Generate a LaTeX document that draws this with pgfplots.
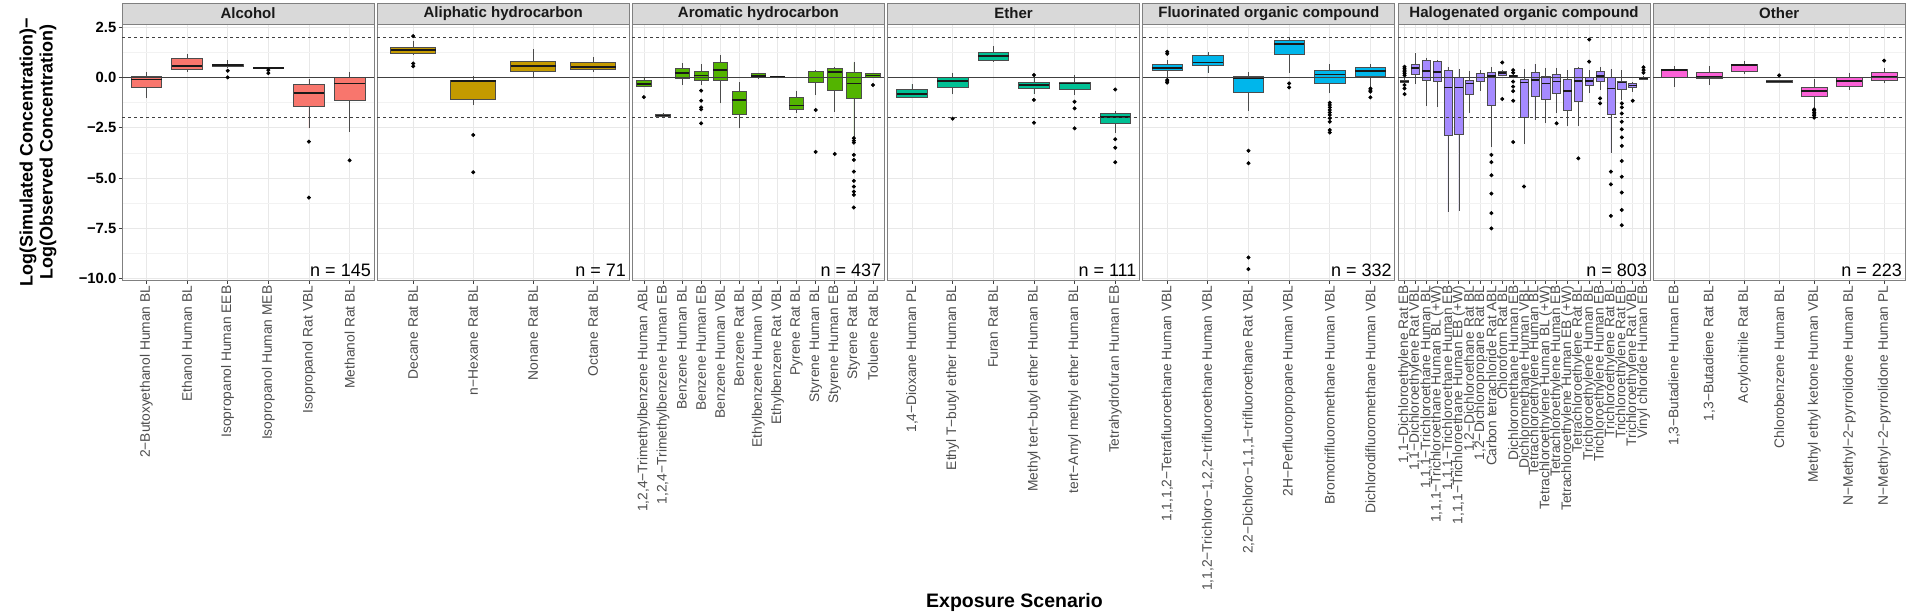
\documentclass[border=0pt]{standalone}
\usepackage{fontspec}
\setmainfont{Liberation Sans}
\usepackage{pgfplots}
\pgfplotsset{compat=1.18}
\usepgfplotslibrary{statistics}

\definecolor{cAl}{HTML}{F8766D}
\definecolor{cAli}{HTML}{C49A00}
\definecolor{cAro}{HTML}{53B400}
\definecolor{cEth}{HTML}{00C094}
\definecolor{cFlu}{HTML}{00B6EB}
\definecolor{cHal}{HTML}{A58AFF}
\definecolor{cOth}{HTML}{FB61D7}

\newcommand{\xtfont}{\fontsize{13.8}{14}\selectfont}

\pgfplotsset{
  facet/.style={
    scale only axis, width=252pt, height=256pt, anchor=south west,
    ymin=-10.06, ymax=2.65, xmin=0.4,
    ytick={-10,-7.5,-5,-2.5,0,2.5},
    minor ytick={-8.75,-6.25,-3.75,-1.25,1.25},
    xmajorgrids, ymajorgrids, yminorgrids,
    major grid style={black!9, line width=0.7pt},
    minor grid style={black!5, line width=0.4pt},
    axis line style={black!50, line width=0.9pt},
    tick align=outside, xtick pos=left, ytick pos=left,
    major tick length=3.5pt, minor tick length=0pt,
    tick style={black!75, line width=0.7pt},
    xticklabel style={rotate=90, anchor=east, font=\xtfont, text=black!70, inner sep=2pt},
    yticklabel style={font=\bfseries\fontsize{14.8}{15}\selectfont, text=black, inner sep=2pt},
    clip=false,
  },
  noy/.style={yticklabels={}, ytick style={draw=none}},
  bxs/.style={draw=black!70, line width=0.6pt, fill=\cc,
    mark=*, mark size=1.7pt, mark options={draw=black, fill=black, solid},
    boxplot/draw direction=y,
    boxplot/box extend=0.75, boxplot/whisker extend=0,
    boxplot/every median/.style={draw=black!90, line width=1.7pt},
    boxplot/every whisker/.style={draw=black!70, line width=0.6pt}},
}

% position, lower whisker, lower quartile, median, upper quartile, upper whisker, outliers
\newcommand{\bx}[7]{\addplot[bxs, boxplot prepared={draw position=#1, lower whisker=#2,
  lower quartile=#3, median=#4, upper quartile=#5, upper whisker=#6}]
  table[row sep=\\, y index=0] {y\\ #7};}
\newcommand{\bn}[6]{\addplot[bxs, boxplot prepared={draw position=#1, lower whisker=#2,
  lower quartile=#3, median=#4, upper quartile=#5, upper whisker=#6}] coordinates {};}

\newcommand{\refl}[1]{%
  \draw[black!75, line width=0.7pt] (axis cs:0.4,0) -- (axis cs:#1,0);
  \draw[black!75, line width=0.7pt, dash pattern=on 3pt off 3pt] (axis cs:0.4,2) -- (axis cs:#1,2);
  \draw[black!75, line width=0.7pt, dash pattern=on 3pt off 3pt] (axis cs:0.4,-2) -- (axis cs:#1,-2);}
\newcommand{\nlab}[1]{\node[anchor=south east, font=\fontsize{18}{18}\selectfont, inner sep=3pt] at (rel axis cs:1,0) {#1};}
\newcommand{\strip}[2]{%
  \draw[fill=black!15, draw=black!50, line width=0.9pt] (#1.north west) rectangle ([yshift=21pt]#1.north east);
  \node[font=\bfseries\fontsize{15}{15}\selectfont, text=black!90] at ([yshift=10.5pt]#1.north) {#2};}

\begin{document}
\begin{tikzpicture}
\useasboundingbox (0pt,0pt) rectangle (1920pt,614pt);

% Alcohol
\def\cc{cAl}
\begin{axis}[facet, name=p1, at={(122pt,334pt)}, xmax=6.6, xtick={1,...,6},
  yticklabels={−10.0,−7.5,−5.0,−2.5,0.0,2.5},
  xticklabels={2−Butoxyethanol Human BL, Ethanol Human BL, Isopropanol Human EEB,
    Isopropanol Human MEB, Isopropanol Rat VBL, Methanol Rat BL}]
\bn{1}{-1.04}{-0.51}{-0.10}{0.07}{0.28}
\bn{2}{0.28}{0.41}{0.58}{0.96}{1.16}
\bx{3}{0.45}{0.57}{0.61}{0.64}{0.86}{0.33\\ 0.0\\}
\bx{4}{0.42}{0.46}{0.48}{0.50}{0.52}{0.36\\ 0.21\\}
\bx{5}{-2.53}{-1.42}{-0.79}{-0.36}{-0.08}{-3.19\\ -5.97\\}
\bx{6}{-2.69}{-1.16}{-0.30}{0.0}{0.28}{-4.12\\}
\refl{6.6}
\nlab{n = 145}
\end{axis}
\strip{p1}{Alcohol}

% Aliphatic hydrocarbon
\def\cc{cAli}
\begin{axis}[facet, noy, name=p2, at={(377.2pt,334pt)}, xmax=4.6, xtick={1,...,4},
  xticklabels={Decane Rat BL, n−Hexane Rat BL, Nonane Rat BL, Octane Rat BL}]
\bx{1}{1.11}{1.19}{1.36}{1.49}{1.82}{2.05\\ 0.69\\ 0.55\\}
\bx{2}{-1.39}{-1.09}{-0.17}{-0.13}{0.07}{-2.86\\ -4.71\\}
\bn{3}{-0.05}{0.31}{0.55}{0.78}{1.39}
\bn{4}{0.28}{0.40}{0.53}{0.76}{1.02}
\refl{4.6}
\nlab{n = 71}
\end{axis}
\strip{p2}{Aliphatic hydrocarbon}

% Aromatic hydrocarbon
\def\cc{cAro}
\begin{axis}[facet, noy, name=p3, at={(632.4pt,334pt)}, xmax=13.6, xtick={1,...,13},
  xticklabels={{1,2,4−Trimethylbenzene Human ABL}, {1,2,4−Trimethylbenzene Human EB},
    Benzene Human BL, Benzene Human EB, Benzene Human VBL, Benzene Rat BL,
    Ethylbenzene Human VBL, Ethylbenzene Rat VBL, Pyrene Rat BL, Styrene Human BL,
    Styrene Human EB, Styrene Rat BL, Toluene Rat BL}]
\bx{1}{-0.50}{-0.43}{-0.33}{-0.17}{-0.05}{-0.98\\}
\bn{2}{-1.98}{-1.95}{-1.90}{-1.85}{-1.79}
\bn{3}{-0.38}{-0.05}{0.23}{0.45}{0.69}
\bx{4}{-0.38}{-0.13}{0.10}{0.28}{0.64}{-0.66\\ -1.16\\ -1.49\\ -1.59\\ -2.28\\}
\bn{5}{-1.29}{-0.13}{0.35}{0.74}{1.11}
\bn{6}{-2.53}{-1.83}{-1.14}{-0.71}{-0.25}
\bn{7}{-0.05}{-0.02}{0.08}{0.20}{0.23}
\bn{8}{-0.02}{0.0}{0.03}{0.06}{0.08}
\bn{9}{-1.75}{-1.59}{-1.40}{-1.01}{-0.66}
\bx{10}{-0.88}{-0.26}{0.0}{0.28}{0.36}{-1.62\\ -3.70\\}
\bx{11}{-1.70}{-0.66}{0.28}{0.43}{0.53}{-3.80\\}
\bx{12}{-2.94}{-1.04}{-0.30}{0.23}{0.74}{-3.02\\ -3.14\\ -3.24\\ -3.85\\ -4.10\\ -4.68\\ -5.14\\ -5.42\\ -5.67\\ -5.83\\ -6.46\\}
\bx{13}{-0.05}{0.0}{0.10}{0.20}{0.23}{-0.38\\}
\refl{13.6}
\nlab{n = 437}
\end{axis}
\strip{p3}{Aromatic hydrocarbon}

% Ether
\def\cc{cEth}
\begin{axis}[facet, noy, name=p4, at={(887.6pt,334pt)}, xmax=6.6, xtick={1,...,6},
  xticklabels={{1,4−Dioxane Human PL}, Ethyl T−butyl ether Human BL, Furan Rat BL,
    Methyl tert−butyl ether Human BL, tert−Amyl methyl ether Human BL, Tetrahydrofuran Human EB}]
\bn{1}{-1.04}{-0.99}{-0.83}{-0.58}{-0.33}
\bx{2}{-0.84}{-0.51}{-0.17}{0.0}{0.23}{-2.05\\}
\bn{3}{0.78}{0.83}{1.06}{1.24}{1.55}
\bx{4}{-0.83}{-0.53}{-0.38}{-0.26}{0.05}{0.12\\ -1.12\\ -2.25\\}
\bx{5}{-0.88}{-0.60}{-0.30}{-0.26}{0.12}{-1.21\\ -1.54\\ -2.53\\}
\bx{6}{-2.74}{-2.28}{-1.95}{-1.79}{-1.65}{-0.60\\ -3.07\\ -3.49\\ -4.21\\}
\refl{6.6}
\nlab{n = 111}
\end{axis}
\strip{p4}{Ether}

% Fluorinated organic compound
\def\cc{cFlu}
\begin{axis}[facet, noy, name=p5, at={(1142.8pt,334pt)}, xmax=6.6, xtick={1,...,6},
  xticklabels={{1,1,1,2−Tetrafluoroethane Human VBL}, {1,1,2−Trichloro−1,2,2−trifluoroethane Human VBL},
    {2,2−Dichloro−1,1,1−trifluoroethane Rat VBL}, 2H−Perfluoropropane Human VBL,
    Bromotrifluoromethane Human VBL, Dichlorodifluoromethane Human VBL}]
\bx{1}{-0.10}{0.33}{0.48}{0.64}{0.86}{1.27\\ 1.17\\ -0.13\\ -0.18\\ -0.26\\}
\bn{2}{0.23}{0.58}{0.74}{1.11}{1.27}
\bx{3}{-1.67}{-0.74}{-0.02}{0.07}{0.25}{-3.64\\ -4.26\\ -8.94\\ -9.52\\}
\bx{4}{0.23}{1.17}{1.64}{1.82}{2.02}{-0.30\\ -0.50\\}
\bx{5}{-0.79}{-0.30}{0.15}{0.33}{0.66}{-1.26\\ -1.37\\ -1.49\\ -1.62\\ -1.74\\ -1.87\\ -2.03\\ -2.20\\ -2.61\\ -2.74\\}
\bx{6}{-0.46}{0.03}{0.33}{0.48}{0.66}{-0.55\\ -0.63\\ -0.71\\ -0.99\\}
\refl{6.6}
\nlab{n = 332}
\end{axis}
\strip{p5}{Fluorinated organic compound}

% Halogenated organic compound
\def\cc{cHal}
\begin{axis}[facet, noy, name=p6, at={(1398pt,334pt)}, xmax=23.6, xtick={1,...,23},
  xticklabels={{1,1−Dichloroethylene Rat EB}, {1,1−Dichloroethylene Rat VBL},
    {1,1,1−Trichloroethane Human BL}, {1,1,1−Trichloroethane Human BL (+W)},
    {1,1,1−Trichloroethane Human EB}, {1,1,1−Trichloroethane Human EB (+W)},
    {1,2−Dichloroethane Rat BL}, {1,2−Dichloropropane Rat BL}, Carbon tetrachloride Rat ABL,
    Chloroform Rat BL, Dichloromethane Human EB, Dichloromethane Human VBL,
    Tetrachloroethylene Human BL, Tetrachloroethylene Human BL (+W), Tetrachloroethylene Human EB,
    Tetrachloroethylene Human EB (+W), Tetrachloroethylene Rat BL, Trichloroethylene Human BL,
    Trichloroethylene Human EB, Trichloroethylene Rat BL, Trichloroethylene Rat EB,
    Trichloroethylene Rat VBL, Vinyl chloride Human EB}]
\bx{1}{-0.28}{-0.25}{-0.20}{-0.13}{0.0}{0.53\\ 0.45\\ 0.36\\ 0.28\\ 0.20\\ 0.10\\ -0.38\\ -0.55\\ -0.83\\}
\bn{2}{-0.35}{0.17}{0.45}{0.64}{1.19}
\bn{3}{-1.42}{-0.13}{0.31}{0.83}{0.98}
\bn{4}{-1.45}{-0.18}{0.28}{0.78}{0.86}
\bn{5}{-6.69}{-2.86}{-0.50}{0.33}{0.53}
\bn{6}{-6.63}{-2.81}{-0.51}{0.0}{0.40}
\bn{7}{-1.79}{-0.84}{-0.30}{-0.13}{0.33}
\bn{8}{-0.68}{-0.21}{0.0}{0.20}{0.36}
\bx{9}{-3.47}{-1.37}{0.07}{0.25}{0.50}{-3.85\\ -4.21\\ -4.86\\ -5.77\\ -6.74\\ -7.50\\}
\bx{10}{0.07}{0.12}{0.23}{0.28}{0.36}{0.74\\ -1.07\\}
\bx{11}{-0.05}{0.02}{0.07}{0.12}{0.17}{0.36\\ 0.23\\ -0.21\\ -0.46\\ -0.68\\ -1.16\\ -3.21\\}
\bx{12}{-3.31}{-1.98}{-0.26}{-0.10}{0.40}{-5.42\\}
\bn{13}{-2.12}{-0.93}{-0.13}{0.25}{0.66}
\bn{14}{-2.28}{-1.07}{-0.30}{0.03}{0.48}
\bx{15}{-1.79}{-0.79}{-0.21}{0.15}{0.48}{-2.28\\}
\bn{16}{-2.40}{-1.65}{-0.66}{-0.10}{0.36}
\bx{17}{-2.41}{-1.17}{-0.18}{0.45}{0.53}{-4.02\\}
\bx{18}{-0.79}{-0.41}{-0.18}{0.0}{0.36}{0.78\\ 1.88\\}
\bx{19}{-0.63}{-0.18}{0.08}{0.31}{0.53}{-1.04\\ -1.29\\}
\bx{20}{-3.74}{-1.82}{-0.55}{0.0}{0.41}{-4.68\\ -5.31\\ -6.88\\}
\bx{21}{-1.12}{-0.60}{-0.26}{-0.18}{0.36}{-1.29\\ -1.49\\ -1.79\\ -2.20\\ -2.58\\ -2.98\\ -3.40\\ -4.15\\ -4.93\\ -5.72\\ -6.58\\ -7.34\\}
\bx{22}{-0.71}{-0.51}{-0.41}{-0.30}{-0.25}{-1.16\\}
\bx{23}{-0.10}{-0.08}{-0.05}{0.0}{0.05}{0.50\\ 0.36\\ 0.23\\}
\refl{23.6}
\nlab{n = 803}
\end{axis}
\strip{p6}{Halogenated organic compound}

% Other
\def\cc{cOth}
\begin{axis}[facet, noy, name=p7, at={(1653.2pt,334pt)}, xmax=7.6, xtick={1,...,7},
  xticklabels={{1,3−Butadiene Human EB}, {1,3−Butadiene Rat BL}, Acrylonitrile Rat BL,
    Chlorobenzene Human BL, Methyl ethyl ketone Human VBL, N−Methyl−2−pyrrolidone Human BL,
    N−Methyl−2−pyrrolidone Human PL}]
\bn{1}{-0.46}{0.02}{0.38}{0.41}{0.56}
\bn{2}{-0.38}{-0.05}{0.03}{0.25}{0.56}
\bn{3}{0.15}{0.31}{0.61}{0.64}{0.83}
\bx{4}{-0.26}{-0.25}{-0.21}{-0.17}{-0.14}{0.10\\}
\bx{5}{-1.54}{-0.93}{-0.68}{-0.48}{-0.10}{-1.59\\ -1.65\\ -1.74\\ -1.82\\ -1.90\\ -2.00\\}
\bn{6}{-0.63}{-0.46}{-0.18}{0.0}{0.23}
\bx{7}{-0.30}{-0.13}{0.03}{0.23}{0.45}{0.83\\}
\refl{7.6}
\nlab{n = 223}
\end{axis}
\strip{p7}{Other}

\node[rotate=90, align=center, font=\bfseries\fontsize{18}{20}\selectfont] at (38pt,462pt)
  {Log(Simulated Concentration)−\\Log(Observed Concentration)};
\node[font=\bfseries\fontsize{19.5}{20}\selectfont] at (1014.5pt,12pt) {Exposure Scenario};
\end{tikzpicture}
\end{document}
